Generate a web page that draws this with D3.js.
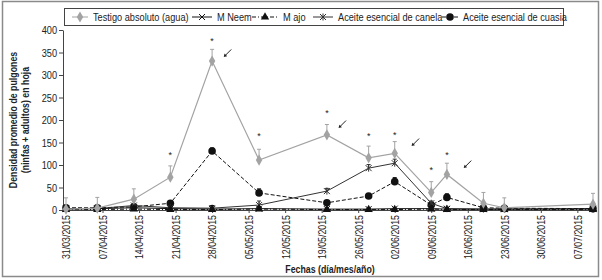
<!DOCTYPE html>
<html>
<head>
<meta charset="utf-8">
<script src="https://cdn.jsdelivr.net/npm/d3@7"></script>
<style>
  body { margin: 0; background: #fff; }
  svg text { font-family: "Liberation Sans", Arial, sans-serif; fill: #222; }
</style>
</head>
<body>
<div id="chart"></div>
<script>
// fechas de muestreo
const dates = ["31/03/2015", "06/04/2015", "13/04/2015", "20/04/2015", "28/04/2015", "07/05/2015", "20/05/2015",
               "28/05/2015", "02/06/2015", "09/06/2015", "12/06/2015", "19/06/2015", "23/06/2015", "10/07/2015"];
const tickDates = ["31/03/2015", "07/04/2015", "14/04/2015", "21/04/2015", "28/04/2015", "05/05/2015", "12/05/2015", "19/05/2015",
                   "26/05/2015", "02/06/2015", "09/06/2015", "16/06/2015", "23/06/2015", "30/06/2015", "07/07/2015"];
const yTicks = [0, 50, 100, 150, 200, 250, 300, 350, 400];

const testigo     = [2, 4, 24, 73, 331, 111, 167, 116, 126, 39, 79, 15, 5, 13];
const testigoErr  = [25, 24, 23, 25, 26, 24, 23, 26, 26, 24, 25, 24, 22, 24];
const neem        = [3, 3, 5, 3, 2, 3, 2, 2, 3, 3, 2, 2, 2, 3];
const neemErr     = [3, 3, 3, 2, 2, 3, 2, 2, 2, 3, 2, 2, 2, 2];
const ajo         = [1, 1, 2, 1, 1, 2, 1, 1, 1, 2, 1, 1, 1, 1];
const ajoErr      = [2, 2, 2, 2, 9, 6, 2, 2, 2, 2, 2, 2, 2, 2];
const canela      = [2, 3, 10, 5, 4, 11, 42, 93, 104, 15, 3, 2, 2, 2];
const canelaErr   = [2, 2, 3, 2, 2, 9, 6, 8, 9, 5, 2, 2, 2, 2];
const cuasia      = [5, 5, 7, 15, 131, 38, 16, 31, 63, 11, 28, 5, 4, 3];
const cuasiaErr   = [4, 4, 4, 4, 7, 9, 4, 4, 9, 4, 8, 3, 3, 3];

const starDates = ["20/04/2015", "28/04/2015", "07/05/2015", "20/05/2015", "28/05/2015", "02/06/2015", "09/06/2015", "12/06/2015"];
const starVals  = [126, 381, 170, 220, 170, 172, 93, 126];
const arrowDates = ["01/05/2015", "23/05/2015", "06/06/2015", "16/06/2015"];
const arrowVals  = [349, 191, 151, 102];

const legendLabels = ["Testigo absoluto (agua)", "M Neem", "M ajo", "Aceite esencial de canela", "Aceite esencial de cuasia"];

const parse = d3.timeParse("%d/%m/%Y");
const svgWidth = 602, svgHeight = 280;

const svg = d3.select("#chart").append("svg")
    .attr("width", svgWidth)
    .attr("height", svgHeight);

// marco exterior
svg.append("rect")
    .attr("x", 2.5).attr("y", 1.5)
    .attr("width", 596).attr("height", 275)
    .attr("fill", "none").attr("stroke", "#8a8a8a").attr("stroke-width", 1.5);

const x = d3.scaleTime()
    .domain([parse("31/03/2015"), parse("10/07/2015")])
    .range([66, 593]);
const y = d3.scaleLinear().domain([0, 400]).range([210, 30]);

// ejes
const xAxis = svg.append("g")
    .attr("transform", "translate(0,210)")
    .call(d3.axisBottom(x).tickValues(tickDates.map(parse)).tickFormat(d3.timeFormat("%d/%m/%Y")).tickSize(3).tickSizeOuter(0));
xAxis.select(".domain").remove();
xAxis.selectAll("line").attr("stroke", "#444");
xAxis.selectAll("text")
    .attr("transform", "rotate(-90)")
    .attr("text-anchor", "end")
    .attr("x", -5).attr("y", 0).attr("dy", "0.35em")
    .style("font-size", "11px");
svg.append("line")
    .attr("x1", 63).attr("x2", 597).attr("y1", 210.5).attr("y2", 210.5)
    .attr("stroke", "#444");

const yAxis = svg.append("g")
    .attr("transform", "translate(63,0)")
    .call(d3.axisLeft(y).tickValues(yTicks).tickSize(4).tickSizeOuter(0));
yAxis.select(".domain").attr("stroke", "#444");
yAxis.selectAll("line").attr("stroke", "#444");
yAxis.selectAll("text").style("font-size", "11.5px").attr("x", -6);

// títulos de ejes
const yTitle = svg.append("text")
    .attr("transform", "translate(17,120) rotate(-90)")
    .attr("text-anchor", "middle")
    .style("font-size", "11px").style("font-weight", "bold");
yTitle.append("tspan").attr("x", 0).attr("dy", 0).text("Densidad promedio de pulgones");
yTitle.append("tspan").attr("x", 0).attr("dy", "1.05em").text("(ninfas + adultos) en hoja");

svg.append("text")
    .attr("x", 330).attr("y", 273)
    .attr("text-anchor", "middle")
    .style("font-size", "11px").style("font-weight", "bold")
    .text("Fechas (día/mes/año)");

const series = [
    { name: legendLabels[0], vals: testigo, err: testigoErr, color: "#a3a3a3", dash: null, marker: "diamond", width: 1.2 },
    { name: legendLabels[1], vals: neem, err: neemErr, color: "#111", dash: null, marker: "cross", width: 1 },
    { name: legendLabels[2], vals: ajo, err: ajoErr, color: "#111", dash: "4,2,1,2", marker: "triangle", width: 1 },
    { name: legendLabels[3], vals: canela, err: canelaErr, color: "#333", dash: null, marker: "star", width: 1 },
    { name: legendLabels[4], vals: cuasia, err: cuasiaErr, color: "#111", dash: "4,2", marker: "circle", width: 1 }
];

function draw_marker(g, type, color) {
    if (type === "diamond") {
        g.append("path").attr("d", d3.symbol(d3.symbolDiamond, 36)()).attr("fill", color);
    } else if (type === "circle") {
        g.append("circle").attr("r", 3.8).attr("fill", color);
    } else if (type === "triangle") {
        g.append("path").attr("d", d3.symbol(d3.symbolTriangle, 30)()).attr("fill", color);
    } else if (type === "cross") {
        g.append("path").attr("d", "M-3,-3L3,3M-3,3L3,-3").attr("stroke", color).attr("stroke-width", 1);
    } else if (type === "star") {
        g.append("path").attr("d", "M-3,-3L3,3M-3,3L3,-3M0,-3.5L0,3.5").attr("stroke", color).attr("stroke-width", 1);
    }
}

const line = d3.line().x((d, i) => x(parse(dates[i]))).y(d => y(d));

// dibujar en orden: series bajas primero, testigo al final
[4, 3, 2, 1, 0].forEach(k => {
    const s = series[k];
    const g = svg.append("g");
    // barras de error (solo hacia arriba)
    const eb = g.append("g").selectAll("g").data(s.vals).enter().append("g");
    eb.append("line")
        .attr("x1", (d, i) => x(parse(dates[i]))).attr("x2", (d, i) => x(parse(dates[i])))
        .attr("y1", d => y(d)).attr("y2", (d, i) => y(d + s.err[i]))
        .attr("stroke", s.color).attr("stroke-width", 1);
    eb.append("line")
        .attr("x1", (d, i) => x(parse(dates[i])) - 2).attr("x2", (d, i) => x(parse(dates[i])) + 2)
        .attr("y1", (d, i) => y(d + s.err[i])).attr("y2", (d, i) => y(d + s.err[i]))
        .attr("stroke", s.color).attr("stroke-width", 1);
    g.append("path")
        .datum(s.vals)
        .attr("d", line)
        .attr("fill", "none")
        .attr("stroke", s.color)
        .attr("stroke-width", s.width)
        .attr("stroke-dasharray", s.dash);
    g.append("g").selectAll("g").data(s.vals).enter().append("g")
        .attr("transform", (d, i) => `translate(${x(parse(dates[i]))},${y(d)})`)
        .each(function () { draw_marker(d3.select(this), s.marker, s.color); });
});

// asteriscos de significancia
svg.append("g").selectAll("text")
    .data(starVals)
    .enter()
    .append("text")
    .attr("x", (d, i) => x(parse(starDates[i])))
    .attr("y", d => y(d) + 5)
    .attr("text-anchor", "middle")
    .attr("fill", "#222")
    .style("font-size", "9px")
    .text("*");

// flechas de aplicación
const arrows = svg.append("g").selectAll("g")
    .data(arrowVals)
    .enter()
    .append("g")
    .attr("transform", (d, i) => `translate(${x(parse(arrowDates[i]))},${y(d)})`);
arrows.append("line")
    .attr("x1", 3.5).attr("y1", -3.5).attr("x2", -3).attr("y2", 3)
    .attr("stroke", "#222").attr("stroke-width", 1);
arrows.append("path")
    .attr("d", "M-4,4L-3.2,0.6L-0.6,3.2Z")
    .attr("fill", "#222");

// leyenda
svg.append("rect")
    .attr("x", 64.5).attr("y", 8.5)
    .attr("width", 499).attr("height", 17)
    .attr("fill", "#fff").attr("stroke", "#444");
const legendX = [72, 192, 252, 313, 442];
const legendW = [16, 20, 26, 20, 16];
const lg = svg.append("g").selectAll("g")
    .data(series)
    .enter()
    .append("g")
    .attr("transform", (d, i) => `translate(${legendX[i]},17)`);
lg.append("line")
    .attr("x1", 0).attr("x2", (d, i) => legendW[i])
    .attr("stroke", d => d.color)
    .attr("stroke-dasharray", d => d.dash);
lg.each(function (d, i) {
    const m = d3.select(this).append("g").attr("transform", `translate(${legendW[i] / 2},0)`);
    draw_marker(m, d.marker, d.color);
});
lg.append("text")
    .attr("x", (d, i) => legendW[i] + 5)
    .attr("dy", "0.35em")
    .style("font-size", "11.5px")
    .text(d => d.name);

// tipografía estrecha (tipo Arial Narrow): comprimir el ancho de los textos
svg.selectAll("text, tspan").each(function () {
    if (this.tagName === "text" && this.querySelector("tspan")) return;
    if (d3.select(this).text() === "*") return;
    const w = this.getComputedTextLength();
    d3.select(this).attr("textLength", w * 0.8).attr("lengthAdjust", "spacingAndGlyphs");
});
</script>
</body>
</html>
